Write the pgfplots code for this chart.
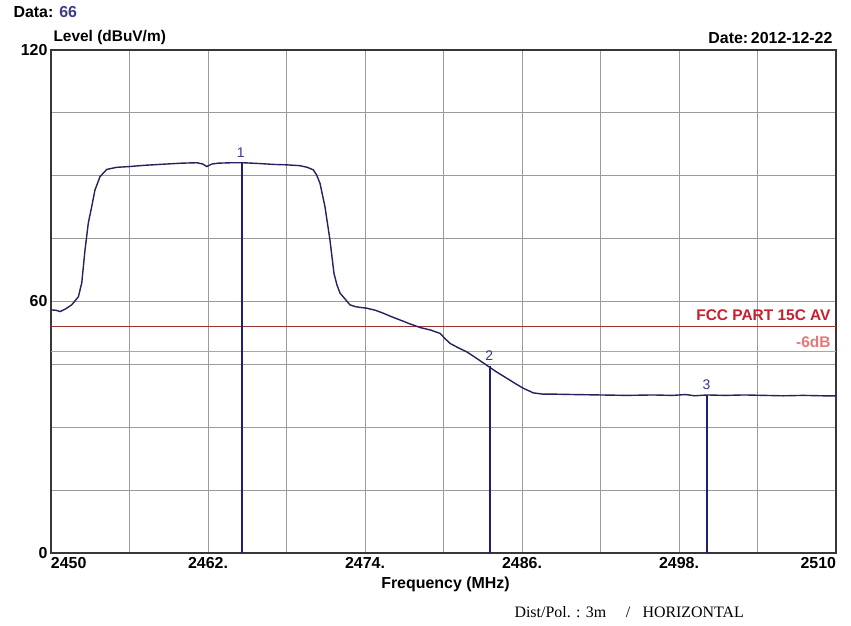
\documentclass[border=0pt]{standalone}
\usepackage{pgfplots}
\pgfplotsset{compat=1.18}
\usepackage{fontspec}
\setmainfont{Liberation Sans}
\newfontfamily\serifont{Liberation Serif}
\definecolor{tracec}{RGB}{35,35,95}
\definecolor{markc}{RGB}{30,30,125}
\definecolor{marktxt}{RGB}{55,55,145}
\definecolor{gridc}{RGB}{155,155,155}
\definecolor{bordc}{RGB}{55,55,55}
\definecolor{limred}{RGB}{160,50,45}
\definecolor{limtxt}{RGB}{200,30,45}
\definecolor{sixline}{RGB}{222,145,135}
\definecolor{sixtxt}{RGB}{230,120,120}
\definecolor{datablue}{RGB}{60,60,140}
\begin{document}
\begin{tikzpicture}[x=1bp,y=1bp]
\path[use as bounding box, fill=white] (-51,-73) rectangle (800,553);
\begin{axis}[
  at={(0,0)}, anchor=south west,
  scale only axis, width=785bp, height=503bp,
  xmin=2450, xmax=2510, ymin=0, ymax=120,
  xtick={2450,2462,2474,2486,2498,2510},
  xticklabels={\makebox[0pt][l]{2450},2462.,2474.,2486.,2498.,\makebox[0pt][r]{2510}},
  minor xtick={2456,2468,2480,2492,2504},
  ytick={0,60,120}, yticklabels={0,60,120},
  minor ytick={15,30,45,75,90,105},
  grid=both,
  major grid style={draw=gridc, line width=0.8bp},
  minor grid style={draw=gridc, line width=0.8bp},
  major tick length=0pt, minor tick length=0pt,
  axis line style={draw=bordc, line width=1.3bp},
  ticklabel style={font=\fontsize{16}{16}\selectfont\bfseries},
  xticklabel style={yshift=-1bp},
  clip=false,
]
% limit lines
\addplot[limred, line width=1.1bp] coordinates {(2450,54) (2510,54)};
\addplot[sixline, line width=1.0bp] coordinates {(2450,48) (2510,48)};
% markers
\addplot[markc, line width=1.2bp] coordinates {(2464.6,0) (2464.6,93.1)};
\addplot[markc, line width=1.2bp] coordinates {(2483.55,0) (2483.55,44.6)};
\addplot[markc, line width=1.2bp] coordinates {(2500.14,0) (2500.14,37.7)};
% trace
\addplot[tracec, line width=1.4bp] coordinates {
(2450.00,58.0) (2450.40,57.9) (2450.69,57.6) (2451.10,58.2) (2451.58,59.2)
(2452.09,61.1) (2452.35,64.4) (2452.60,72.3) (2452.85,78.7) (2453.11,82.6)
(2453.36,86.6) (2453.75,89.8) (2454.26,91.5) (2455.00,92.0) (2456.04,92.2)
(2457.20,92.5) (2458.84,92.8) (2460.00,93.0) (2461.14,93.1) (2461.60,92.8)
(2461.90,92.2) (2462.30,92.8) (2462.79,93.0) (2463.80,93.1) (2464.70,93.1)
(2466.00,92.9) (2466.99,92.7) (2468.00,92.6) (2469.03,92.4) (2469.60,92.0)
(2470.05,91.4) (2470.30,90.2) (2470.56,88.2) (2470.94,82.6) (2471.32,74.7)
(2471.63,66.7) (2471.85,64.0) (2472.09,62.0) (2472.34,61.1) (2472.85,59.2)
(2473.23,58.8) (2473.60,58.6) (2474.13,58.4) (2474.80,57.9) (2475.40,57.2)
(2476.00,56.4) (2476.67,55.6) (2477.40,54.7) (2478.20,53.8) (2479.00,53.2)
(2479.73,52.4) (2480.10,51.2) (2480.50,50.0) (2481.10,49.0) (2481.77,48.0)
(2482.50,46.5) (2483.30,44.8) (2484.00,43.3) (2484.83,41.7) (2485.50,40.4)
(2486.10,39.3) (2486.86,38.2) (2487.60,37.9) (2488.39,37.9) (2490.00,37.8)
(2491.96,37.7) (2494.00,37.6) (2496.00,37.7) (2497.50,37.6) (2498.50,37.8)
(2499.20,37.5) (2500.14,37.7) (2501.50,37.6) (2503.00,37.7) (2504.50,37.6)
(2506.00,37.5) (2507.50,37.6) (2509.00,37.5) (2510.00,37.5)
};
% marker labels
\node[text=marktxt, font=\fontsize{14}{14}\selectfont, anchor=south] at (axis cs:2464.5,93.6) {1};
\node[text=marktxt, font=\fontsize{14}{14}\selectfont, anchor=south] at (axis cs:2483.5,45.0) {2};
\node[text=marktxt, font=\fontsize{14}{14}\selectfont, anchor=south] at (axis cs:2500.1,38.1) {3};
% limit labels
\node[text=limtxt, font=\fontsize{15.5}{15.5}\selectfont\bfseries, anchor=east] at (axis cs:2509.85,56.7) {FCC PART 15C AV};
\node[text=sixtxt, font=\fontsize{15.5}{15.5}\selectfont\bfseries, anchor=east] at (axis cs:2509.85,50.4) {-6dB};
\end{axis}
% titles around the axis
\node[anchor=west, font=\fontsize{16}{16}\selectfont\bfseries] at (-41,541) {Data: \textcolor{datablue}{66}};
\node[anchor=west, font=\fontsize{15.5}{15.5}\selectfont\bfseries] at (-1,515) {Level (dBuV/m)};
\node[anchor=east, font=\fontsize{16}{16}\selectfont\bfseries] at (785,515) {Date:\,2012-12-22};
\node[anchor=center, font=\fontsize{16}{16}\selectfont\bfseries] at (394.5,-31) {Frequency (MHz)};
\node[anchor=west, font=\fontsize{16}{16}\selectfont\serifont] at (460,-59) {Dist/Pol. : 3m};
\node[anchor=center, font=\fontsize{16}{16}\selectfont\serifont] at (577,-59) {/};
\node[anchor=west, font=\fontsize{16}{16}\selectfont\serifont] at (588,-59) {HORIZONTAL};
\end{tikzpicture}
\end{document}
